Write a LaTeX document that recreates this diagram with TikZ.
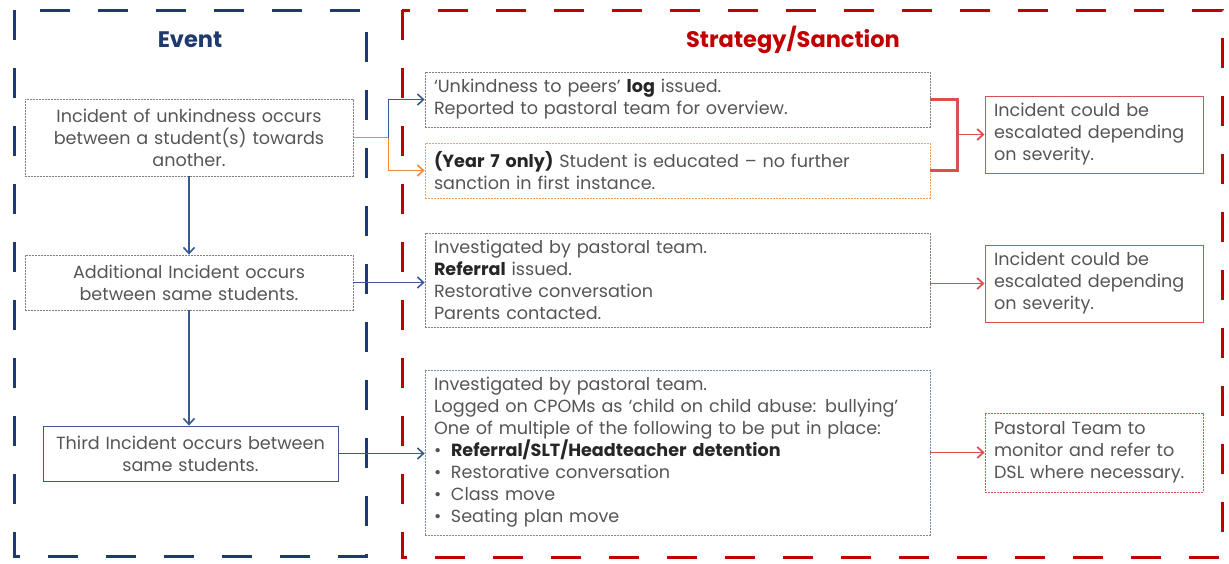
\documentclass[tikz,border=0pt]{standalone}
\usepackage{fontspec}
\setmainfont{Poppins}
\usepackage{tikz}
\usetikzlibrary{arrows.meta,positioning,calc}

\definecolor{evnavy}{HTML}{1F3A6E}
\definecolor{arrnavy}{HTML}{3B5895}
\definecolor{sanred}{HTML}{C00000}
\definecolor{lnred}{HTML}{D95050}
\definecolor{lnorange}{HTML}{F08A3C}
\definecolor{txtgray}{HTML}{555555}
\definecolor{dotgray}{HTML}{7F7F7F}

\tikzset{
  fl/frame/.style={line width=3pt, dash pattern=on 30pt off 28pt},
  fl/title/.style={font=\fontsize{22.5}{26}\selectfont\bfseries},
  fl/box/.style={draw=dotgray, line width=0.8pt, dash pattern=on 1.6pt off 1.4pt,
    inner xsep=9pt, inner ysep=3pt, text=txtgray,
    font=\fontsize{17.6}{22}\selectfont},
  fl/event/.style={fl/box, align=center},
  fl/action/.style={fl/box, align=left, text width=487pt, minimum width=505pt},
  fl/result/.style={fl/box, align=left, draw=lnred, solid, line width=1pt,
    text width=200pt, minimum width=218pt},
  fl/arrow/.style={draw=arrnavy, line width=1.6pt, -{Straight Barb[length=6pt,width=11pt]}},
  fl/orange/.style={fl/arrow, draw=lnorange},
  fl/redarrow/.style={fl/arrow, draw=lnred, line width=1.8pt},
  fl/redline/.style={draw=lnred, line width=2.2pt}
}
\newcommand{\bfx}[1]{\textcolor{black!85}{\textbf{#1}}}
\newcommand{\itm}{\makebox[17pt][l]{\textbullet}}

\begin{document}
\begin{tikzpicture}[x=1pt, y=-1pt]
  \useasboundingbox (0,0) rectangle (1229,563);

  % the two columns
  \draw[fl/frame, evnavy] (14,10) rectangle (366,556);
  \draw[fl/frame, sanred] (402,10) rectangle (1222,557);
  \node[fl/title, text=evnavy] (evtitle) at (190,40) {Event};
  \node[fl/title, text=sanred] (santitle) at (793,40) {Strategy/Sanction};

  % event column
  \node[fl/event, minimum width=328pt, minimum height=77pt, text width=310pt] (ev1) at (189,137.5)
    {Incident of unkindness occurs\\ between a student(s) towards\\ another.};
  \node[fl/event, minimum width=328pt, minimum height=55pt, text width=310pt] (ev2) at (189,282.5)
    {Additional Incident occurs\\ between same students.};
  \node[fl/event, draw=arrnavy, solid, minimum width=295pt, minimum height=55pt, text width=277pt] (ev3) at (190.5,453.5)
    {Third Incident occurs between\\ same students.};

  % strategy column
  \node[fl/action, minimum height=55pt] (log) at (677.5,99.5)
    {‘Unkindness to peers’ \bfx{log} issued.\\ Reported to pastoral team for overview.};
  \node[fl/action, draw=lnorange!80, minimum height=55pt] (educ) at (677.5,170.5)
    {\bfx{(Year 7 only)} Student is educated – no further\\ sanction in first instance.};
  \node[fl/action, minimum height=94pt] (refer) at (677.5,280)
    {Investigated by pastoral team.\\ \bfx{Referral} issued.\\ Restorative conversation\\ Parents contacted.};
  \node[fl/action, draw=arrnavy!70, minimum height=165pt] (cpoms) at (677.5,452.5)
    {Investigated by pastoral team.\\
     Logged on CPOMs as ‘child on child abuse: bullying’\\
     One of multiple of the following to be put in place:\\
     \itm\bfx{Referral/SLT/Headteacher detention}\\
     \itm Restorative conversation\\
     \itm Class move\\
     \itm Seating plan move};

  \node[fl/result, minimum height=77pt] (esc1) at (1094,134.5)
    {Incident could be\\ escalated depending\\ on severity.};
  \node[fl/result, minimum height=77pt] (esc2) at (1094,283.5)
    {Incident could be\\ escalated depending\\ on severity.};
  \node[fl/result, dash pattern=on 1.6pt off 1.4pt, line width=0.8pt, minimum height=79pt] (dsl) at (1094,452.5)
    {Pastoral Team to\\ monitor and refer to\\ DSL where necessary.};

  % connectors
  \coordinate (split) at ($(ev1.east)+(35,0)$);
  \draw[draw=lnorange, line width=1.4pt] (ev1.east) -- (split);
  \draw[fl/arrow] (split) |- (log.west);
  \draw[fl/orange] (split) |- (educ.west);
  \draw[fl/arrow] (ev1) -- (ev2);
  \draw[fl/arrow] (ev2.south) -- (ev2.south |- ev3.north);
  \draw[fl/arrow] (ev2.east) -- (ev2.east -| refer.west);
  \draw[fl/arrow] (ev3.east) -- (ev3.east -| cpoms.west);

  \coordinate (join) at ($(log.east)!0.5!(esc1.west)$);
  \draw[fl/redline] (log.east) -| (join) |- (educ.east);
  \draw[fl/redarrow] (join |- esc1.west) -- (esc1.west);
  \draw[fl/redarrow] (refer.east |- esc2.west) -- (esc2.west);
  \draw[fl/redarrow] (cpoms.east) -- (dsl.west);
\end{tikzpicture}
\end{document}
